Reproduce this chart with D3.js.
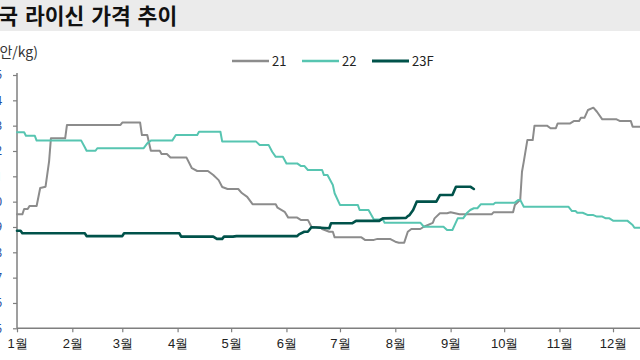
<!DOCTYPE html>
<html><head><meta charset="utf-8">
<script src="https://cdn.jsdelivr.net/npm/d3@7"></script>
<style>
html,body{margin:0;padding:0;background:#fff;overflow:hidden;}
svg{display:block;font-family:"Noto Sans CJK KR","Noto Sans",sans-serif;}
</style></head>
<body><svg id="c" width="640" height="360"></svg>
<script>
const title = "중국 라이신 가격 추이";
const unitLabel = "(위안/kg)";
const monthLabels = ["1월","2월","3월","4월","5월","6월","7월","8월","9월","10월","11월","12월"];
const yTicks = [5,6,7,8,9,10,11,12,13,14,15];
const seriesNames = ["21","22","23F"];

// day-of-year (0 = 1월 1일) and price (위안/kg)
const days21 = [0,3,4,6,7,11,13,16,18,19,27,28,58,59,69,70,73,75,80,81,84,86,95,98,101,107,110,113,115,118,124,126,129,132,145,146,150,152,157,159,163,165,170,171,175,177,178,193,195,200,202,209,212,214,217,219,221,226,228,233,234,237,241,243,248,266,267,278,279,282,283,284,286,289,290,297,299,302,303,310,312,315,316,318,320,323,325,328,336,338,344,345,364];
const vals21 = [9.50,9.50,9.71,9.71,9.83,9.83,10.54,10.59,11.60,12.50,12.50,13.03,13.03,13.12,13.12,12.63,12.63,12.01,12.01,11.88,11.88,11.74,11.74,11.32,11.21,11.21,11.05,10.85,10.58,10.50,10.50,10.34,10.19,9.90,9.90,9.76,9.60,9.37,9.37,9.28,9.28,9.01,8.99,8.92,8.81,8.81,8.59,8.59,8.49,8.49,8.53,8.53,8.42,8.38,8.38,8.81,8.92,8.92,9.01,9.16,9.34,9.54,9.54,9.58,9.50,9.50,9.58,9.58,9.87,10.07,11.18,11.58,12.43,12.43,13.00,13.00,12.90,12.90,13.09,13.09,13.18,13.18,13.31,13.31,13.62,13.71,13.55,13.25,13.25,13.18,13.18,12.96,12.96];

const days22 = [0,4,5,10,11,36,38,39,44,45,71,73,75,87,89,101,102,114,115,134,136,141,143,145,149,151,157,159,161,163,171,172,174,177,178,181,191,192,197,200,205,206,226,228,239,241,244,247,250,252,254,256,258,260,267,268,279,281,282,284,309,311,313,314,317,320,323,325,328,330,332,334,342,345,346,364];
const vals22 = [12.74,12.74,12.60,12.60,12.41,12.41,12.15,12.01,12.01,12.11,12.11,12.30,12.41,12.41,12.63,12.63,12.76,12.76,12.37,12.37,12.24,12.24,11.97,11.77,11.77,11.51,11.51,11.41,11.41,11.25,11.25,11.05,11.05,10.66,10.33,9.87,9.87,9.67,9.67,9.30,9.30,9.17,9.17,9.01,9.01,8.88,8.88,9.34,9.34,9.54,9.67,9.74,9.74,9.90,9.90,9.96,9.96,10.07,10.07,9.80,9.80,9.63,9.63,9.56,9.56,9.47,9.47,9.41,9.41,9.34,9.34,9.25,9.25,9.08,8.97,8.97];

const days23 = [0,2,3,38,39,59,60,91,92,110,112,115,116,121,123,157,158,161,163,165,170,175,176,188,190,203,205,218,219,220,222,224,235,237,244,246,254,256];
const vals23 = [8.85,8.85,8.75,8.75,8.64,8.64,8.75,8.75,8.62,8.62,8.53,8.53,8.62,8.62,8.64,8.64,8.71,8.81,8.81,8.99,8.97,8.95,9.15,9.15,9.24,9.24,9.34,9.36,9.43,9.47,9.67,10.00,10.00,10.26,10.26,10.59,10.59,10.50];

const colors = ["#8c8c8c","#57c5b1","#00524a"];
const widths = [2,2,2.6];

const svg = d3.select("#c");
const dayToDate = d => new Date(2021,0,1+d);

const x = d3.scaleTime().domain([new Date(2021,0,1), new Date(2021,11,1)]).range([17,613]);
const y = d3.scaleLinear().domain([5,15]).range([328.3,75]);

// title bar
svg.append("rect").attr("x",0).attr("y",0).attr("width",640).attr("height",31).attr("fill","#ebebeb");
svg.append("text").attr("x",-21.5).attr("y",24).attr("text-anchor","start")
  .attr("font-size",21.5).attr("word-spacing",2).attr("font-weight","bold").attr("fill","#111").text(title);

svg.append("text").attr("x",38).attr("y",57).attr("text-anchor","end")
  .attr("font-size",14).attr("fill","#333").text(unitLabel);

// y axis
const yAxis = d3.axisLeft(y).tickValues(yTicks).tickSize(4).tickFormat(d=>d);
const gy = svg.append("g").attr("transform","translate(17,0)").call(yAxis);
gy.select(".domain").attr("stroke","#7f7f7f").attr("stroke-width",1.5).attr("d","M0,73V328.3");
gy.selectAll(".tick line").attr("stroke","#7f7f7f").attr("stroke-width",1.2);
gy.selectAll(".tick text").attr("x",-15).attr("font-size",12).attr("fill","#1f4ea0")
  .attr("font-family","Noto Sans,sans-serif");

// x axis
const months = d3.timeMonth.range(new Date(2021,0,1), new Date(2021,11,2));
const xAxis = d3.axisBottom(x).tickValues(months).tickSize(4).tickFormat((d,i)=>monthLabels[i]);
const gx = svg.append("g").attr("transform","translate(0,328.3)").call(xAxis);
gx.select(".domain").attr("stroke","#7f7f7f").attr("stroke-width",1.5).attr("d","M17,0H640");
gx.selectAll(".tick line").attr("stroke","#7f7f7f").attr("stroke-width",1.2);
gx.selectAll(".tick text").attr("y",10).attr("font-size",13).attr("fill","#222");

// lines
const allSeries = [
  days21.map((d,i)=>({date:dayToDate(d), v:vals21[i]})),
  days22.map((d,i)=>({date:dayToDate(d), v:vals22[i]})),
  days23.map((d,i)=>({date:dayToDate(d), v:vals23[i]}))
];
const line = d3.line().x(d=>x(d.date)).y(d=>y(d.v)).curve(d3.curveLinear);
allSeries.forEach((s,i)=>{
  svg.append("path").datum(s).attr("d",line).attr("fill","none")
    .attr("stroke",colors[i]).attr("stroke-width",widths[i])
    .attr("stroke-linejoin","round").attr("stroke-linecap","round");
});

// legend
const legX = [232,302,372];
seriesNames.forEach((n,i)=>{
  svg.append("line").attr("x1",legX[i]).attr("x2",legX[i]+37).attr("y1",61).attr("y2",61)
    .attr("stroke",colors[i]).attr("stroke-width",widths[i]+0.4);
  svg.append("text").attr("x",legX[i]+40).attr("y",65.5).attr("font-size",13)
    .attr("fill","#222").text(n);
});
</script></body></html>
